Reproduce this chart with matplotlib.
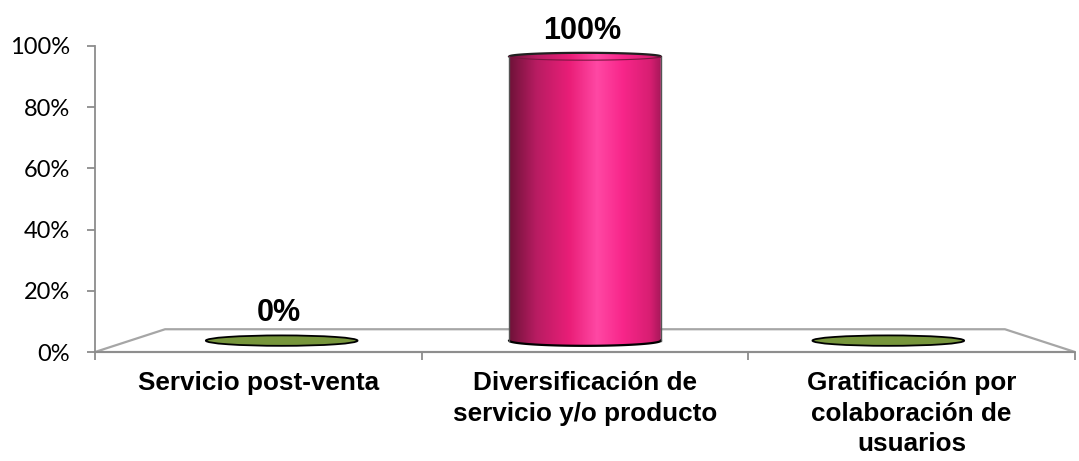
import numpy as np
import matplotlib
matplotlib.use("Agg")
import matplotlib.pyplot as plt
from matplotlib.patches import Ellipse, Polygon, PathPatch
from matplotlib.path import Path
from matplotlib.colors import LinearSegmentedColormap
from matplotlib.ticker import FuncFormatter

# data
categories = ["Servicio post-venta",
              "Diversificación de\nservicio y/o producto",
              "Gratificación por\ncolaboración de\nusuarios"]
values = [0, 100, 0]
value_labels = ["0%", "100%", ""]
y_ticks = [0, 20, 40, 60, 80, 100]

# styling
GRAY = "#8c8c8c"
FLOOR = "#a6a6a6"
GREEN = "#77963c"
pink_cmap = LinearSegmentedColormap.from_list(
    "pinkcyl",
    [(0.00, "#6e1238"), (0.18, "#b81c62"), (0.40, "#ea1e78"),
     (0.58, "#ff48a4"), (0.75, "#f8268a"), (0.93, "#d81e72"), (1.00, "#a8185a")])

# simple perspective: points at depth d shrink toward a vanishing point
VX, VY = 1.0, 52.0
SHRINK = 0.143


def proj(x, y, depth):
    s = 1 - SHRINK * depth
    return VX + (x - VX) * s, VY + (y - VY) * s


fig = plt.figure(figsize=(10.79, 4.61), dpi=100)
ax = fig.add_axes([95 / 1079, (461 - 352) / 461, 980 / 1079, 306 / 461])
ax.set_xlim(-0.5, 2.5)
ax.set_ylim(0, 100)

for s in ["top", "right"]:
    ax.spines[s].set_visible(False)
for s in ["left", "bottom"]:
    ax.spines[s].set_color(GRAY)
    ax.spines[s].set_linewidth(1.3)

# floor
bl = proj(-0.5, 0, 1)
br = proj(2.5, 0, 1)
floor = Polygon([(-0.5, 0), (2.5, 0), br, bl], closed=True,
                facecolor="white", edgecolor=FLOOR, lw=1.6, zorder=1,
                clip_on=False)
ax.add_patch(floor)

# y ticks
ax.set_yticks(y_ticks)
ax.yaxis.set_major_formatter(FuncFormatter(lambda v, p: f"{int(v)}%"))
ax.tick_params(axis="y", direction="out", length=6, width=1.3, color=GRAY,
               pad=12, labelsize=17)
for lab in ax.get_yticklabels():
    lab.set_fontfamily("Lato")

# x ticks at category boundaries, labels in between
ax.set_xticks([-0.5, 0.5, 1.5, 2.5])
ax.set_xticklabels([])
ax.tick_params(axis="x", which="major", direction="out", length=6,
               width=1.3, color=GRAY)
ax.set_xticks([0, 1, 2], categories, minor=True)
ax.tick_params(axis="x", which="minor", length=0, pad=14, labelsize=18.8)
for lab in ax.get_xticklabels(minor=True):
    lab.set_fontfamily("Liberation Sans")
    lab.set_fontweight("bold")
    lab.set_linespacing(1.32)

bar_w = 0.5
eh_bot = 3.4
eh_top = 2.4
for i, v in enumerate(values):
    cx, yb = proj(i, 0, 0.5)
    _, yt = proj(i, v, 0.5)
    w = bar_w * (1 - SHRINK * 0.5)
    if v == 0:
        ax.add_patch(Ellipse((cx, yb), w, eh_bot, facecolor=GREEN,
                             edgecolor="black", lw=1.3, zorder=3))
        top = yb + eh_bot / 2
    else:
        t = np.linspace(np.pi, 2 * np.pi, 60)
        bot_arc = np.column_stack([cx + w / 2 * np.cos(t), yb + eh_bot / 2 * np.sin(t)])
        t2 = np.linspace(0, np.pi, 60)
        top_arc = np.column_stack([cx + w / 2 * np.cos(t2), yt + eh_top / 2 * np.sin(t2)])
        verts = np.vstack([bot_arc, top_arc, bot_arc[:1]])
        path = Path(verts, closed=True)
        body = PathPatch(path, facecolor="none", edgecolor="none", zorder=3)
        ax.add_patch(body)
        grad = np.linspace(0, 1, 256).reshape(1, -1)
        im = ax.imshow(grad, cmap=pink_cmap, aspect="auto", zorder=3,
                       extent=[cx - w / 2, cx + w / 2, yb - eh_bot, yt + eh_top],
                       interpolation="bilinear")
        im.set_clip_path(body)
        # outlines
        ax.plot(bot_arc[:, 0], bot_arc[:, 1], color="black", lw=1.6, zorder=4)
        ax.plot(top_arc[:, 0], top_arc[:, 1], color="#202020", lw=1.6, zorder=4)
        ax.plot(top_arc[:, 0], 2 * yt - top_arc[:, 1], color="#7a1440", lw=0.8, zorder=4)
        ax.plot([cx - w / 2, cx - w / 2], [yb, yt], color="#555555", lw=1.0, zorder=4)
        ax.plot([cx + w / 2, cx + w / 2], [yb, yt], color="#555555", lw=1.0, zorder=4)
        top = yt + eh_top / 2
    if value_labels[i]:
        ax.annotate(value_labels[i], (cx, top), xytext=(-2, 5),
                    textcoords="offset points", ha="center", va="bottom",
                    fontsize=22, fontweight="bold", family="Liberation Sans",
                    annotation_clip=False, zorder=5)

ax.set_ylim(0, 100)
fig.savefig("out.png", dpi=100)
